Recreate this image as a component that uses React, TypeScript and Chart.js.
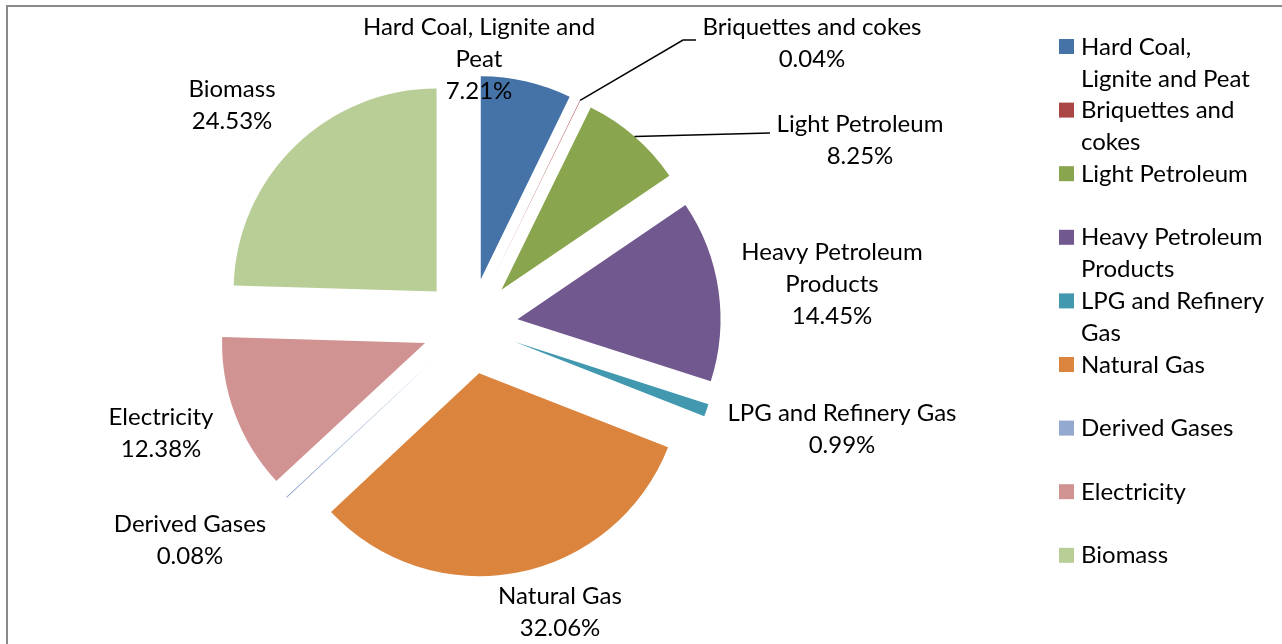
import React, { useEffect, useRef } from "react";
import { Chart, registerables } from "chart.js";

Chart.register(...registerables);

// ---------- data ----------
const categories = [
  "Hard Coal, Lignite and Peat",
  "Briquettes and cokes",
  "Light Petroleum",
  "Heavy Petroleum Products",
  "LPG and Refinery Gas",
  "Natural Gas",
  "Derived Gases",
  "Electricity",
  "Biomass",
];
const shares = [7.21, 0.04, 8.25, 14.45, 0.99, 32.06, 0.08, 12.38, 24.53];
const percentLabels = ["7.21%", "0.04%", "8.25%", "14.45%", "0.99%", "32.06%", "0.08%", "12.38%", "24.53%"];
const labelLines = [
  ["Hard Coal, Lignite and", "Peat"],
  ["Briquettes and cokes"],
  ["Light Petroleum"],
  ["Heavy Petroleum", "Products"],
  ["LPG and Refinery Gas"],
  ["Natural Gas"],
  ["Derived Gases"],
  ["Electricity"],
  ["Biomass"],
];
const legendLines = [
  ["Hard Coal,", "Lignite and Peat"],
  ["Briquettes and", "cokes"],
  ["Light Petroleum"],
  ["Heavy Petroleum", "Products"],
  ["LPG and Refinery", "Gas"],
  ["Natural Gas"],
  ["Derived Gases"],
  ["Electricity"],
  ["Biomass"],
];
const colors = ["#4572A7", "#AA4643", "#89A54E", "#71588F", "#4198AF", "#DB843D", "#93A9CF", "#D19392", "#B9CD96"];

// ---------- layout / style ----------
const W = 1282;
const H = 644;
const PIE_CX = 470;
const PIE_CY = 326;
const PIE_R = 203;
const EXPLODE = 48;
const FONT = "24px Lato, 'Noto Sans', sans-serif";
const LINE_H = 32;
// label anchor (center x, first baseline) relative to pie center
const labelOffsets: [number, number][] = [
  [9, -291],
  [342, -291],
  [390, -194],
  [362, -66],
  [372, 95],
  [90, 278],
  [-280, 206],
  [-309, 99],
  [-238, -229],
];
// leader lines: index -> points relative to pie center (after slice outer midpoint)
const leaders: Record<number, [number, number][]> = {
  1: [[213, -286], [226, -286]],
  2: [[300, -193]],
};
const LEGEND_MARK_X = 1059;
const LEGEND_MARK = 15;
const LEGEND_TEXT_X = 1081;
const LEGEND_Y0 = 46.5;
const LEGEND_STEP = 63.6;

const decorPlugin = {
  id: "decor",
  beforeDatasetsDraw(chart: any) {
    const meta = chart.getDatasetMeta(0);
    const { left, right, top, bottom } = chart.chartArea;
    const cx = (left + right) / 2;
    const cy = (top + bottom) / 2;
    meta.data.forEach((el: any) => {
      const mid = (el.startAngle + el.endAngle) / 2;
      el.x = cx + EXPLODE * Math.cos(mid);
      el.y = cy + EXPLODE * Math.sin(mid);
    });
  },
  afterDatasetsDraw(chart: any) {
    const ctx = chart.ctx as CanvasRenderingContext2D;
    const meta = chart.getDatasetMeta(0);
    const { left, right, top, bottom } = chart.chartArea;
    const cx = (left + right) / 2;
    const cy = (top + bottom) / 2;
    ctx.save();
    // leader lines
    ctx.strokeStyle = "#000";
    ctx.lineWidth = 1.5;
    Object.keys(leaders).forEach((k) => {
      const i = Number(k);
      const el = meta.data[i];
      const mid = (el.startAngle + el.endAngle) / 2;
      ctx.beginPath();
      ctx.moveTo(el.x + el.outerRadius * Math.cos(mid), el.y + el.outerRadius * Math.sin(mid));
      leaders[i].forEach(([dx, dy]) => ctx.lineTo(cx + dx, cy + dy));
      ctx.stroke();
    });
    // data labels
    ctx.font = FONT;
    ctx.fillStyle = "#000";
    ctx.textAlign = "center";
    ctx.textBaseline = "alphabetic";
    categories.forEach((_, i) => {
      const [dx, dy] = labelOffsets[i];
      const lines = [...labelLines[i], percentLabels[i]];
      lines.forEach((t, j) => ctx.fillText(t, cx + dx, cy + dy + j * LINE_H));
    });
    // legend
    ctx.textAlign = "left";
    categories.forEach((_, i) => {
      const my = LEGEND_Y0 + i * LEGEND_STEP;
      ctx.fillStyle = colors[i];
      ctx.fillRect(LEGEND_MARK_X, my - LEGEND_MARK / 2, LEGEND_MARK, LEGEND_MARK);
      ctx.fillStyle = "#000";
      legendLines[i].forEach((t, j) => ctx.fillText(t, LEGEND_TEXT_X, my + 8 + j * LINE_H));
    });
    // chart border
    ctx.strokeStyle = "#8a8a8a";
    ctx.lineWidth = 2;
    ctx.strokeRect(7, 6, W + 10, H + 10);
    ctx.restore();
  },
};

export default function App() {
  const ref = useRef<HTMLCanvasElement | null>(null);
  useEffect(() => {
    if (!ref.current) return;
    const padL = 10;
    const padT = 10;
    const padR = W - (2 * PIE_CX - padL);
    const padB = H - (2 * PIE_CY - padT);
    const chart = new Chart(ref.current, {
      type: "pie",
      data: {
        labels: categories,
        datasets: [
          {
            data: shares,
            backgroundColor: colors,
            borderWidth: 0,
            radius: PIE_R,
          } as any,
        ],
      },
      options: {
        responsive: false,
        animation: false,
        events: [],
        layout: { padding: { left: padL, right: padR, top: padT, bottom: padB } },
        plugins: { legend: { display: false }, tooltip: { enabled: false } },
      },
      plugins: [decorPlugin],
    });
    let alive = true;
    if ((document as any).fonts && (document as any).fonts.load) {
      (document as any).fonts.load(FONT).then(() => {
        if (alive) chart.draw();
      });
    }
    return () => {
      alive = false;
      chart.destroy();
    };
  }, []);
  return (
    <div style={{ position: "absolute", left: 0, top: 0, width: W, height: H, background: "#fff" }}>
      <canvas ref={ref} width={W} height={H} style={{ display: "block" }} />
    </div>
  );
}
